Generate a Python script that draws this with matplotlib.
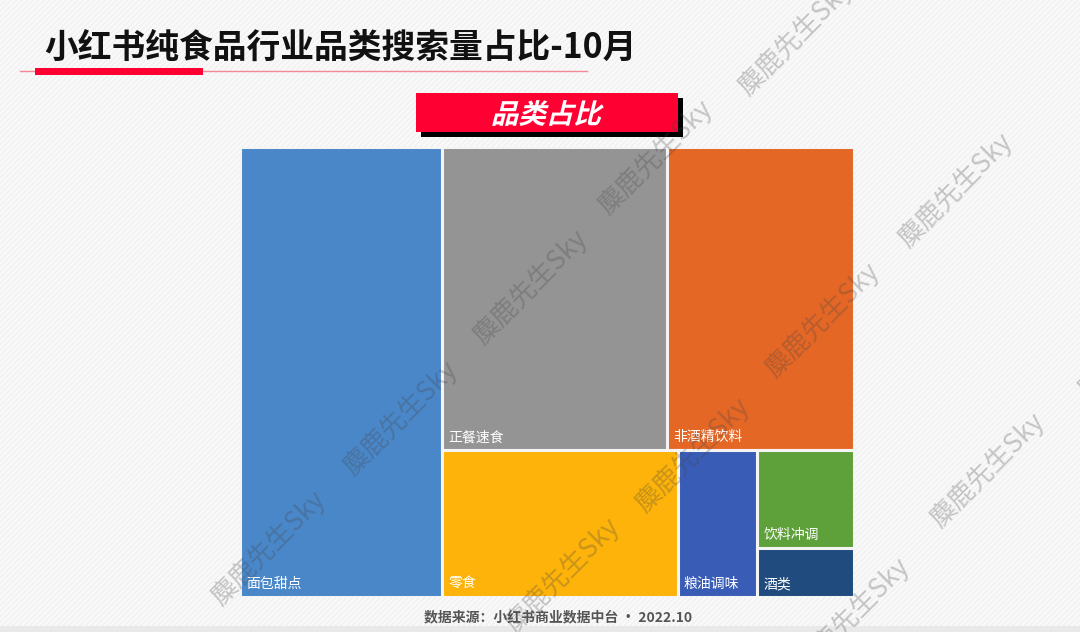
import matplotlib
matplotlib.use("Agg")
import matplotlib.pyplot as plt
from matplotlib.patches import Rectangle, PathPatch
from matplotlib.textpath import TextPath
from matplotlib.font_manager import FontProperties
from matplotlib.transforms import Affine2D

plt.rcParams['font.family'] = ['Noto Sans CJK SC', 'DejaVu Sans']

# ---------------- data ----------------
title = "小红书纯食品行业品类搜索量占比-10月"
banner = "品类占比"
source = "数据来源：小红书商业数据中台 · 2022.10"
categories = ["面包甜点", "正餐速食", "非酒精饮料", "零食", "粮油调味", "饮料冲调", "酒类"]
shares = [32.7, 24.5, 20.4, 12.4, 4.2, 3.4, 1.7]
colors = ["#4A87C9", "#949494", "#E46726", "#FDB309", "#395CB6", "#5EA03A", "#1F4B7E"]
watermark = "麋鹿先生Sky"

W, H = 1080, 632
fig = plt.figure(figsize=(W / 100, H / 100), dpi=100)
fig.patch.set_facecolor("#f8f8f8")

# background / decoration axes in pixel coordinates
bg = fig.add_axes([0, 0, 1, 1])
bg.set_xlim(0, W)
bg.set_ylim(H, 0)
bg.axis("off")
bg.add_patch(Rectangle((0, 0), W, H, facecolor="#f9f9f9", edgecolor="#f1f1f1",
                       hatch="//////", linewidth=0, zorder=0))
bg.add_patch(Rectangle((0, 626), W, 6, facecolor="#e9e9e9", linewidth=0, zorder=1))

# title
bg.text(44, 47, title, fontsize=24.3, fontweight="bold", color="#111111",
        ha="left", va="center", zorder=3)
bg.plot([20, 587], [71, 71], color="#f28a96", lw=1.0, zorder=2)
bg.add_patch(Rectangle((35, 67.5), 168, 7, facecolor="#ff0033", linewidth=0, zorder=3))

# banner with shadow and slanted text
bg.add_patch(Rectangle((421, 98), 262, 39, facecolor="#000000", linewidth=0, zorder=2))
bg.add_patch(Rectangle((416, 93), 262, 39, facecolor="#ff0033", linewidth=0, zorder=3))
fp = FontProperties(family="Noto Sans CJK SC", weight="bold")
tp = TextPath((0, 0), banner, size=27.5, prop=fp)
tr = Affine2D().skew_deg(14, 0).scale(1, -1)
path = tr.transform_path(tp)
ext = path.get_extents()
cx, cy = (ext.x0 + ext.x1) / 2, (ext.y0 + ext.y1) / 2
path = Affine2D().translate(548 - cx, 113 - cy).transform_path(path)
bg.add_patch(PathPatch(path, facecolor="white", edgecolor="none", zorder=4))

# source
bg.text(558, 617, source, fontsize=10, color="#555555", fontweight="bold",
        ha="center", va="center", zorder=3)

# ---------------- treemap ----------------
x0, y0, x1, y1 = 240, 147, 854, 597
tm = fig.add_axes([x0 / W, 1 - y1 / H, (x1 - x0) / W, (y1 - y0) / H])
tm.set_xlim(0, 1)
tm.set_ylim(0, 1)
tm.axis("off")

total = sum(shares)
rects = []
# first item: full-height column
w0 = shares[0] / total
rects.append((0, 0, w0, 1))
rest = sum(shares[1:])
rw = 1 - w0
# top row: items 1, 2
top = shares[1] + shares[2]
th = top / rest
xs = w0
for v in shares[1:3]:
    w = rw * v / top
    rects.append((xs, 1 - th, w, th))
    xs += w
# bottom row: items 3, 4, and stacked group (5, 6)
bot = sum(shares[3:])
bh = 1 - th
xs = w0
for v in shares[3:5]:
    w = rw * v / bot
    rects.append((xs, 0, w, bh))
    xs += w
grp = shares[5] + shares[6]
gw = rw * grp / bot
ys = bh
for v in shares[5:7]:
    h = bh * v / grp
    rects.append((xs, ys - h, gw, h))
    ys -= h

for (rx, ry, rw_, rh), c, name in zip(rects, colors, categories):
    tm.add_patch(Rectangle((rx, ry), rw_, rh, facecolor=c, edgecolor="#f4f4f4",
                           linewidth=2.2, zorder=1))
    tm.text(rx + 6 / (x1 - x0), ry + 6 / (y1 - y0), name, color="white",
            fontsize=10, ha="left", va="bottom", zorder=2)

# ---------------- watermark overlay ----------------
ov = fig.add_axes([0, 0, 1, 1])
ov.set_xlim(0, W)
ov.set_ylim(H, 0)
ov.axis("off")
ov.patch.set_alpha(0)
wm_pos = [(795, 38), (655, 157), (955, 190), (530, 287), (822, 320), (1135, 340),
          (400, 418), (692, 455), (987, 470), (268, 548), (562, 575), (852, 615)]
for (wx, wy) in wm_pos:
    ov.text(wx, wy, watermark, fontsize=19, color="#444444", alpha=0.28,
            rotation=45, ha="center", va="center", fontweight="light",
            rotation_mode="anchor", zorder=10)

fig.savefig("out.png", dpi=100, facecolor=fig.get_facecolor())
